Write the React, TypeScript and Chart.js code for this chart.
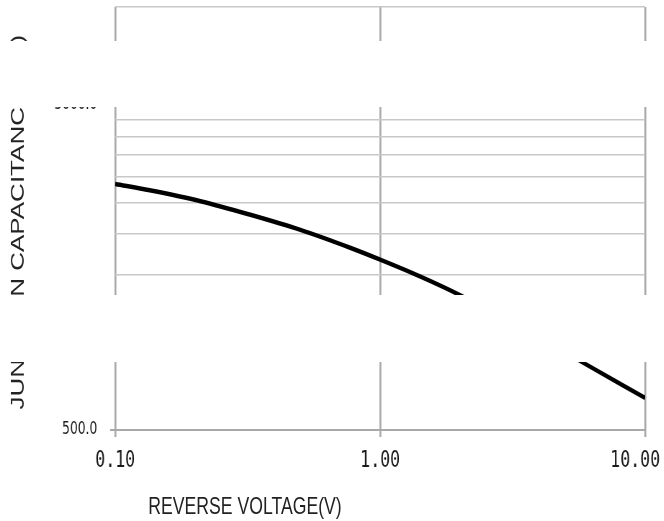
import React, { useEffect, useRef } from 'react';
import { Chart, registerables } from 'chart.js';

Chart.register(...registerables);

// ---- data ----
const voltage = [0.1, 0.135, 0.21, 0.32, 0.5, 0.77, 1.0, 1.42, 2.0, 5.6, 10];
const capacitance = [2855, 2731, 2528, 2302, 2063, 1818, 1671, 1482, 1300, 821, 627];

const xTickValues = [0.1, 1, 10];
const xTickLabels = ['0.10', '1.00', '10.00'];
const yTickValues = [500, 1000, 1500, 2000, 2500, 3000, 3500, 4000, 4500, 5000, 10000];
const yTickLabels = ['500.0', '1000.0', '', '', '', '', '', '', '', '5000.0', ''];

const xTitle = 'REVERSE VOLTAGE(V)';
const yTitle = 'JUNCTION CAPACITANCE (pF)';

// ---- layout ----
const SQUEEZE = 0.72; // the reference is horizontally condensed
const W = 922;
const H = 521;

export default function App() {
  const ref = useRef<HTMLCanvasElement | null>(null);

  useEffect(() => {
    const canvas = ref.current;
    if (!canvas) return;
    const chart = new Chart(canvas, {
      type: 'line',
      data: {
        datasets: [
          {
            data: voltage.map((v, i) => ({ x: v, y: capacitance[i] })),
            borderColor: '#000000',
            borderWidth: 4.5,
            pointRadius: 0,
            fill: false,
            cubicInterpolationMode: 'monotone',
          },
        ],
      },
      options: {
        responsive: false,
        animation: false,
        devicePixelRatio: 1,
        layout: { padding: { left: 0, right: 26, top: 7, bottom: 0 } },
        plugins: {
          legend: { display: false },
          tooltip: { enabled: false },
        },
        scales: {
          x: {
            type: 'logarithmic',
            position: 'bottom',
            min: 0.1,
            max: 10,
            afterBuildTicks: (axis: any) => {
              axis.ticks = xTickValues.map((v) => ({ value: v }));
            },
            afterFit: (axis: any) => {
              axis.height = 91;
              axis.paddingLeft = 0;
              axis.paddingRight = 0;
            },
            ticks: {
              autoSkip: false,
              maxRotation: 0,
              minRotation: 0,
              padding: 10,
              color: '#1a1a1a',
              font: { family: 'DejaVu Sans Mono', size: 23 },
              callback: (_v: any, i: number) =>
                i === xTickLabels.length - 1 ? xTickLabels[i] + '  ' : xTickLabels[i],
            },
            grid: {
              color: '#a9a9a9',
              lineWidth: 2.6,
              tickLength: 7,
              tickColor: '#a9a9a9',
              tickWidth: 2.6,
            },
            border: { display: false },
          },
          y: {
            type: 'logarithmic',
            min: 500,
            max: 10000,
            afterBuildTicks: (axis: any) => {
              axis.ticks = yTickValues.map((v) => ({ value: v }));
            },
            afterFit: (axis: any) => {
              axis.width = 160;
              axis.paddingTop = 0;
              axis.paddingBottom = 0;
            },
            ticks: {
              autoSkip: false,
              padding: 18,
              color: '#1a1a1a',
              font: { family: 'DejaVu Sans', size: 17 },
              callback: (_v: any, i: number) => yTickLabels[i],
            },
            grid: {
              color: (ctx: any) =>
                ctx.tick && ctx.tick.value === 500 ? '#a9a9a9' : '#c8c8c8',
              lineWidth: (ctx: any) => (ctx.tick && ctx.tick.value === 500 ? 2 : 1.6),
              tickLength: 7,
              tickColor: (ctx: any) =>
                ctx.tick && yTickLabels[yTickValues.indexOf(ctx.tick.value)]
                  ? '#a9a9a9'
                  : 'rgba(0,0,0,0)',
              tickWidth: 2,
            },
            border: { display: false },
            title: {
              display: true,
              text: yTitle + ' ',
              color: '#222222',
              font: { family: 'Liberation Sans', size: 26 },
              padding: { top: 10, bottom: 0 },
            },
          },
        },
      },
    } as any);
    return () => chart.destroy();
  }, []);

  return (
    <div
      style={{
        position: 'absolute',
        left: 0,
        top: 0,
        width: 664,
        height: 521,
        overflow: 'hidden',
        background: '#ffffff',
      }}
    >
      <div
        style={{
          position: 'absolute',
          left: 0,
          top: 0,
          width: W,
          height: H,
          transform: `scaleX(${SQUEEZE})`,
          transformOrigin: '0 0',
        }}
      >
        <canvas
          ref={ref}
          width={W}
          height={H}
          style={{ display: 'block', width: W, height: H }}
        />
        <div
          style={{
            position: 'absolute',
            left: 206,
            top: 494,
            fontFamily: 'Liberation Sans',
            fontSize: 24.5,
            lineHeight: '24px',
            color: '#222222',
            whiteSpace: 'nowrap',
          }}
        >
          {xTitle}
        </div>
      </div>
      <div
        style={{
          position: 'absolute',
          left: 0,
          top: 41,
          width: 664,
          height: 66,
          background: '#ffffff',
        }}
      />
      <div
        style={{
          position: 'absolute',
          left: 0,
          top: 295,
          width: 664,
          height: 67,
          background: '#ffffff',
        }}
      />
    </div>
  );
}
